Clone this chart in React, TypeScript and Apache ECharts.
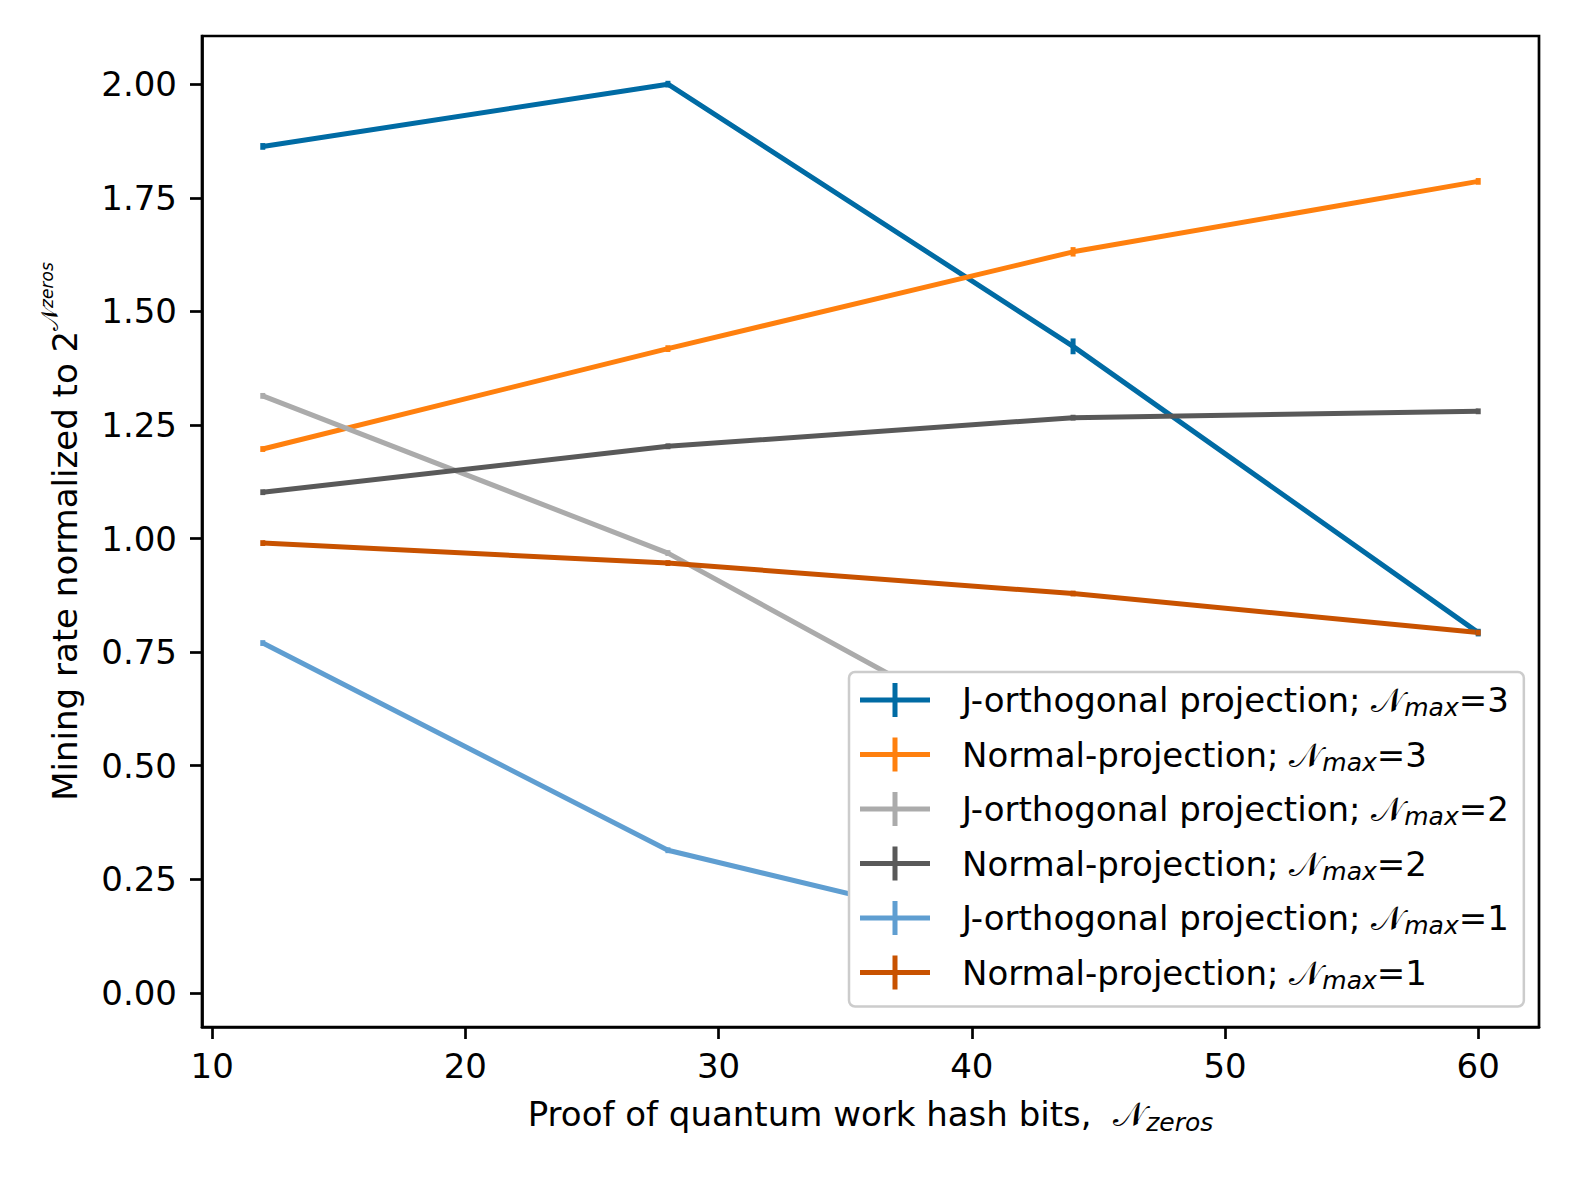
import React, { useEffect, useRef } from "react";
import * as echarts from "echarts";

const xValues = [12, 28, 44, 60];
const seriesNames = [
  "J-orthogonal projection; Nmax=3",
  "Normal-projection; Nmax=3",
  "J-orthogonal projection; Nmax=2",
  "Normal-projection; Nmax=2",
  "J-orthogonal projection; Nmax=1",
  "Normal-projection; Nmax=1",
];
const legendPrefix = [
  "J-orthogonal projection; ",
  "Normal-projection; ",
  "J-orthogonal projection; ",
  "Normal-projection; ",
  "J-orthogonal projection; ",
  "Normal-projection; ",
];
const legendSuffix = ["=3", "=3", "=2", "=2", "=1", "=1"];
const colors = ["#006BA4", "#FF800E", "#ABABAB", "#595959", "#5F9ED1", "#C85200"];

const jOrth3 = [1.863, 2.0, 1.423, 0.793];
const normal3 = [1.197, 1.418, 1.631, 1.786];
const jOrth2 = [1.314, 0.968, 0.48, 0.25];
const normal2 = [1.102, 1.203, 1.266, 1.28];
const jOrth1 = [0.77, 0.314, 0.1, 0.05];
const normal1 = [0.99, 0.946, 0.879, 0.793];

const errJ3 = [0.003, 0.003, 0.013, 0.004];
const errN3 = [0.002, 0.003, 0.006, 0.003];
const errJ2 = [0.002, 0.002, 0.002, 0.002];
const errN2 = [0.002, 0.002, 0.002, 0.002];
const errJ1 = [0.002, 0.002, 0.002, 0.002];
const errN1 = [0.002, 0.002, 0.002, 0.002];

const xTicks = [10, 20, 30, 40, 50, 60];
const yTicks = [0, 0.25, 0.5, 0.75, 1.0, 1.25, 1.5, 1.75, 2.0];

const allValues = [jOrth3, normal3, jOrth2, normal2, jOrth1, normal1];
const allErrors = [errJ3, errN3, errJ2, errN2, errJ1, errN1];

const CAL_N = "\u{1D4A9}";
const FONT = "DejaVu Sans";

export default function App() {
  const ref = useRef<HTMLDivElement>(null);
  useEffect(() => {
    document.body.style.margin = "0";
    if (!ref.current) return;
    const chart = echarts.init(ref.current, undefined, { renderer: "svg", width: 1577, height: 1183 });

    const lineSeries = allValues.map((vals, i) => ({
      type: "line",
      name: seriesNames[i],
      data: vals.map((v, j) => [xValues[j], v]),
      showSymbol: false,
      symbol: "none",
      lineStyle: { color: colors[i], width: 5 },
      itemStyle: { color: colors[i] },
      z: 2,
    }));
    const errSeries = allValues.map((vals, i) => ({
      type: "custom",
      name: "err" + i,
      data: vals.map((v, j) => [xValues[j], v, allErrors[i][j]]),
      renderItem: (params: any, api: any) => {
        const x = api.value(0);
        const y = api.value(1);
        const e = api.value(2);
        const p1 = api.coord([x, y - e]);
        const p2 = api.coord([x, y + e]);
        return {
          type: "line",
          shape: { x1: p1[0], y1: p1[1] + 2, x2: p2[0], y2: p2[1] - 2 },
          style: { stroke: colors[i], lineWidth: 5 },
        };
      },
      z: 3,
    }));

    const option: any = {
      animation: false,
      backgroundColor: "#ffffff",
      textStyle: { fontFamily: FONT },
      grid: {
        left: 202,
        right: 38,
        top: 36,
        bottom: 156,
        show: true,
        borderColor: "#000000",
        borderWidth: 2.7,
        containLabel: false,
      },
      xAxis: {
        type: "value",
        min: 9.6,
        max: 62.4,
        splitLine: { show: false },
        axisLine: { show: true, onZero: false, lineStyle: { color: "#000", width: 2.7 } },
        axisTick: {
          show: true,
          inside: false,
          length: 12,
          lineStyle: { color: "#000", width: 2.7 },
          customValues: xTicks,
        },
        axisLabel: {
          color: "#000",
          fontSize: 34,
          fontFamily: FONT,
          margin: 22,
          customValues: xTicks,
          formatter: (v: number) => String(v),
        },
        name:
          "{t|Proof of quantum work hash bits,  }{n|" + CAL_N + "}{s|zeros}",
        nameLocation: "middle",
        nameGap: 66,
        nameTextStyle: {
          color: "#000",
          fontFamily: FONT,
          rich: {
            t: { fontSize: 34, fontFamily: FONT, color: "#000", lineHeight: 42, verticalAlign: "middle" },
            n: { fontSize: 34, fontFamily: FONT, color: "#000", lineHeight: 42, verticalAlign: "middle" },
            s: { fontSize: 25, fontStyle: "italic", fontFamily: FONT, color: "#000", lineHeight: 30, verticalAlign: "bottom" },
          },
        },
      },
      yAxis: {
        type: "value",
        min: -0.075,
        max: 2.106,
        splitLine: { show: false },
        axisLine: { show: true, onZero: false, lineStyle: { color: "#000", width: 2.7 } },
        axisTick: {
          show: true,
          inside: false,
          length: 12,
          lineStyle: { color: "#000", width: 2.7 },
          customValues: yTicks,
        },
        axisLabel: {
          color: "#000",
          fontSize: 34,
          fontFamily: FONT,
          margin: 25,
          customValues: yTicks,
          formatter: (v: number) => v.toFixed(2),
        },
        name: "{t|Mining rate normalized to 2}{n|" + CAL_N + "}{s|zeros}",
        nameLocation: "middle",
        nameRotate: 90,
        nameGap: 120,
        nameTextStyle: {
          color: "#000",
          fontFamily: FONT,
          rich: {
            t: { fontSize: 34, fontFamily: FONT, color: "#000", lineHeight: 44, verticalAlign: "bottom" },
            n: { fontSize: 24, fontFamily: FONT, color: "#000", lineHeight: 44, verticalAlign: "top", padding: [0, 0, 14, 0] },
            s: { fontSize: 17, fontStyle: "italic", fontFamily: FONT, color: "#000", lineHeight: 44, verticalAlign: "top", padding: [0, 0, 8, 0] },
          },
        },
      },
      legend: {
        show: true,
        orient: "vertical",
        left: 849,
        top: 672,
        data: seriesNames,
        icon: "path://M0,14.5H70V19.5H0Z M32.5,0H37.5V34H32.5Z",
        itemWidth: 70,
        itemHeight: 34,
        itemGap: 17.5,
        padding: [11, 15, 14, 11],
        backgroundColor: "#ffffff",
        borderColor: "#cccccc",
        borderWidth: 2.5,
        borderRadius: 6,
        itemStyle: { borderWidth: 0 },
        z: 10,
        formatter: (name: string) => {
          const i = seriesNames.indexOf(name);
          return (
            "{sp|}{a|" + legendPrefix[i] + "}{n|" + CAL_N + "}{s|max}{a|" + legendSuffix[i] + "}"
          );
        },
        textStyle: {
          color: "#000",
          fontFamily: FONT,
          fontSize: 34,
          rich: {
            sp: { width: 27, fontSize: 34, lineHeight: 40 },
            a: { fontSize: 34, fontFamily: FONT, color: "#000", lineHeight: 40, verticalAlign: "middle" },
            n: { fontSize: 34, fontFamily: FONT, color: "#000", lineHeight: 40, verticalAlign: "middle" },
            s: { fontSize: 25, fontStyle: "italic", fontFamily: FONT, color: "#000", lineHeight: 30, verticalAlign: "bottom" },
          },
        },
      },
      series: [...lineSeries, ...errSeries],
    };
    chart.setOption(option);
    return () => chart.dispose();
  }, []);
  return (
    <div
      ref={ref}
      style={{ position: "absolute", left: 0, top: 0, width: 1577, height: 1183 }}
    />
  );
}
